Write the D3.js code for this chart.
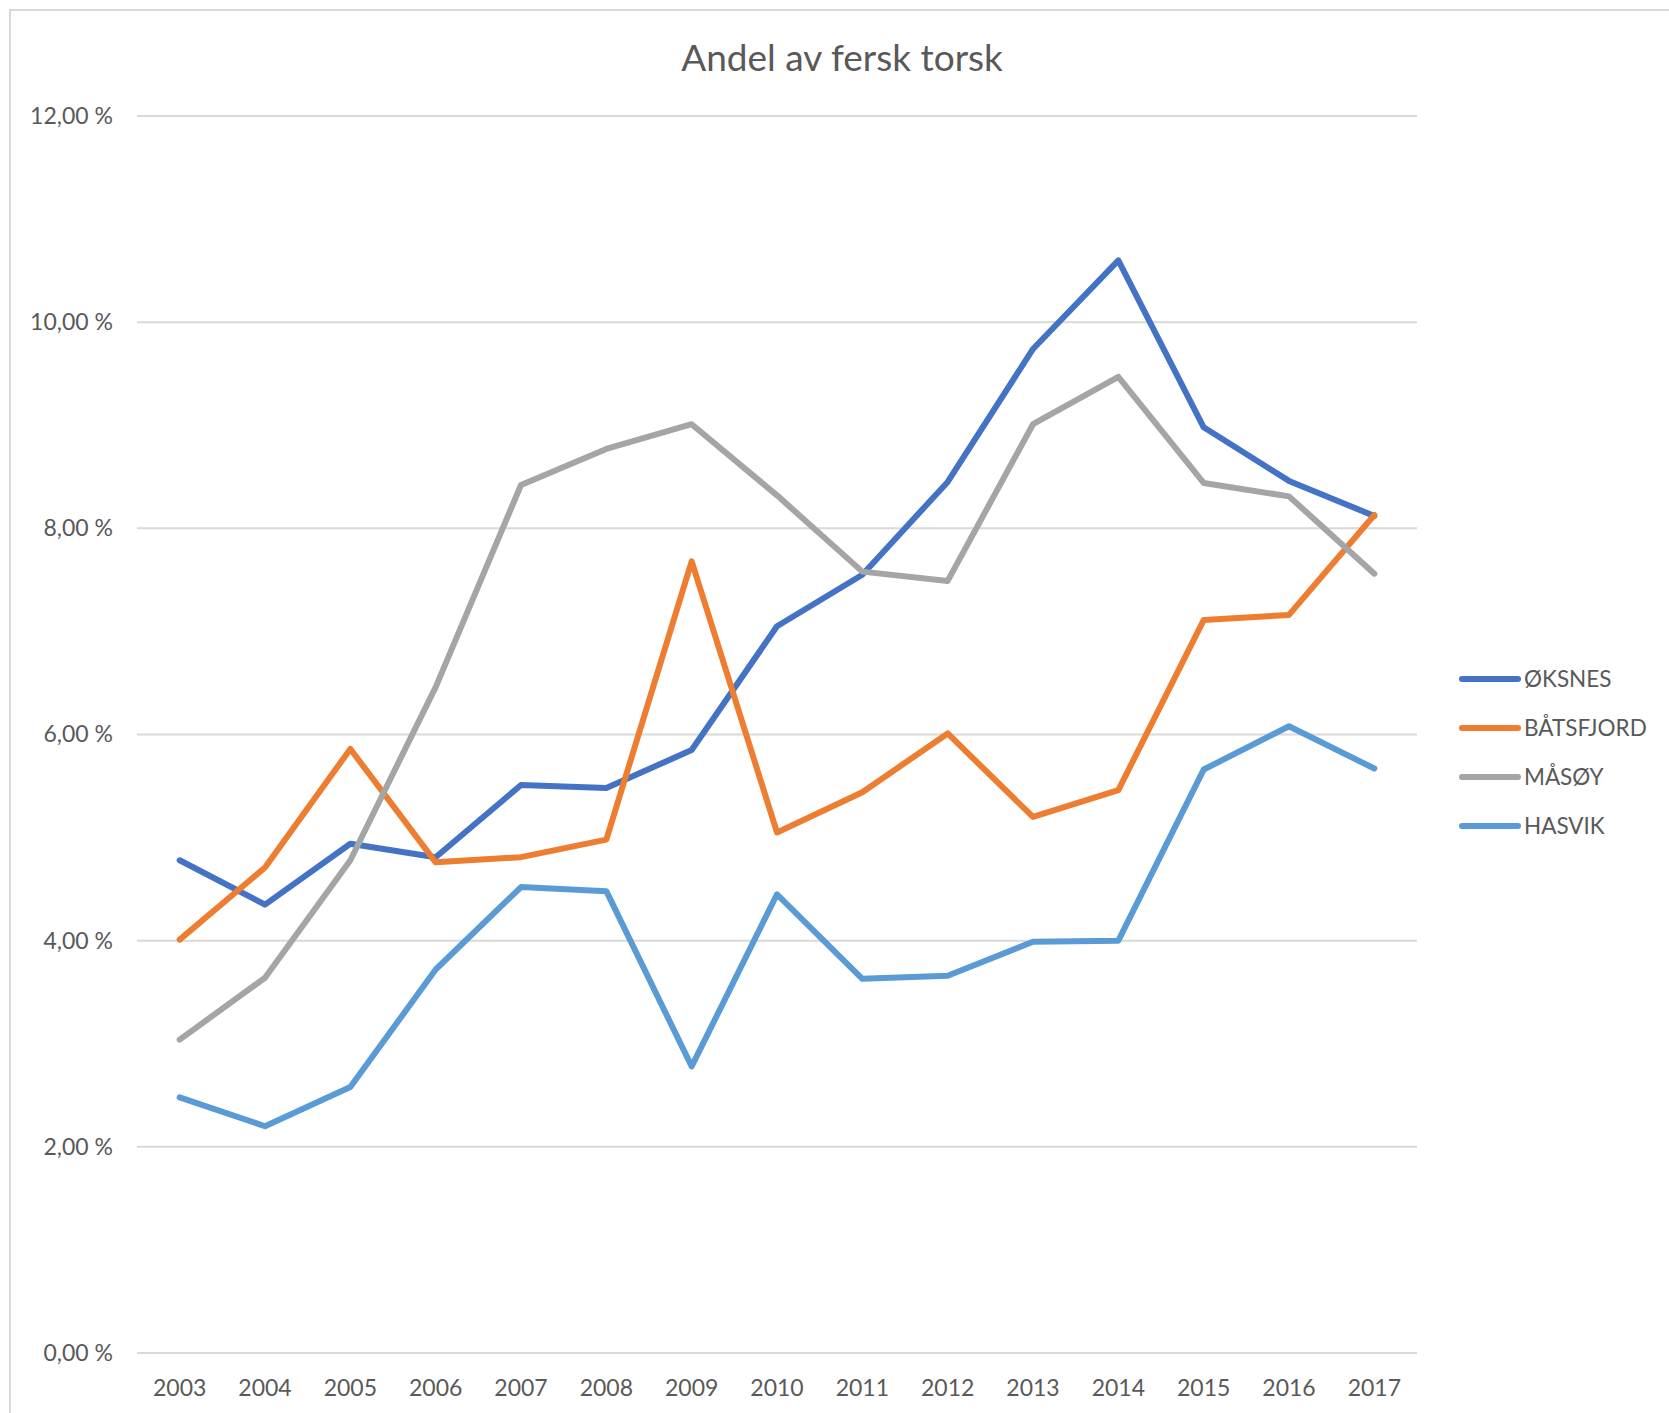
<!DOCTYPE html>
<html>
<head>
<meta charset="utf-8">
<script src="https://cdn.jsdelivr.net/npm/d3@7"></script>
<style>
  body { margin: 0; background: #fff; }
  text { font-family: Lato, "Open Sans", sans-serif; fill: #595959; }
</style>
</head>
<body>
<svg id="chart" width="1669" height="1413"></svg>
<script>
// chart data
let years = ['2003','2004','2005','2006','2007','2008','2009','2010','2011','2012','2013','2014','2015','2016','2017'];
let seriesNames = ['ØKSNES', 'BÅTSFJORD', 'MÅSØY', 'HASVIK'];
let seriesColors = ['#4472C4', '#ED7D31', '#A5A5A5', '#5B9BD5'];
let oksnes    = [4.78, 4.35, 4.94, 4.81, 5.51, 5.48, 5.85, 7.05, 7.55, 8.45, 9.74, 10.60, 8.98, 8.46, 8.12];
let batsfjord = [4.01, 4.71, 5.86, 4.76, 4.81, 4.98, 7.68, 5.05, 5.44, 6.01, 5.20, 5.46, 7.11, 7.16, 8.13];
let masoy     = [3.04, 3.64, 4.78, 6.46, 8.42, 8.77, 9.01, 8.32, 7.58, 7.49, 9.01, 9.47, 8.44, 8.31, 7.56];
let hasvik    = [2.48, 2.20, 2.58, 3.72, 4.52, 4.48, 2.78, 4.45, 3.63, 3.66, 3.99, 4.00, 5.66, 6.08, 5.67];
let yTicks = [0, 2, 4, 6, 8, 10, 12];

let allSeries = [oksnes, batsfjord, masoy, hasvik];

let svg = d3.select('#chart');

// outer chart border
svg.append('rect')
   .attr('x', 10).attr('y', 10)
   .attr('width', 1700).attr('height', 1450)
   .attr('fill', 'none')
   .attr('stroke', '#d9d9d9')
   .attr('stroke-width', 2);

let plotLeft = 137, plotRight = 1417, plotTop = 116, plotBottom = 1353;

let xScale = d3.scaleBand()
               .domain(years)
               .range([plotLeft, plotRight]);

let yScale = d3.scaleLinear()
               .domain([0, 12])
               .range([plotBottom, plotTop]);

// gridlines
svg.append('g')
   .selectAll('line')
   .data(yTicks)
   .enter()
   .append('line')
   .attr('x1', plotLeft)
   .attr('x2', plotRight)
   .attr('y1', (d) => yScale(d))
   .attr('y2', (d) => yScale(d))
   .attr('stroke', '#d9d9d9')
   .attr('stroke-width', 2);

// y axis labels
let yAxis = d3.axisLeft(yScale)
              .tickValues(yTicks)
              .tickSize(0)
              .tickPadding(0)
              .tickFormat((d) => d.toFixed(2).replace('.', ',') + ' %');

svg.append('g')
   .attr('transform', 'translate(113, 0)')
   .call(yAxis)
   .call((g) => g.select('.domain').remove())
   .selectAll('text')
   .style('font-size', '23px')
   .attr('fill', '#595959');

// x axis labels
let xAxis = d3.axisBottom(xScale)
              .tickSize(0)
              .tickPadding(0);

svg.append('g')
   .attr('transform', 'translate(0, 1380)')
   .call(xAxis)
   .call((g) => g.select('.domain').remove())
   .selectAll('text')
   .style('font-size', '23px')
   .attr('fill', '#595959');

// lines
let line = d3.line()
             .x((d, i) => xScale(years[i]) + xScale.bandwidth() / 2)
             .y((d) => yScale(d));

svg.append('g')
   .selectAll('path')
   .data(allSeries)
   .enter()
   .append('path')
   .attr('d', (d) => line(d))
   .attr('fill', 'none')
   .attr('stroke', (d, i) => seriesColors[i])
   .attr('stroke-width', 6)
   .attr('stroke-linejoin', 'round')
   .attr('stroke-linecap', 'round');

// title
svg.append('text')
   .attr('x', 842)
   .attr('y', 71)
   .attr('text-anchor', 'middle')
   .style('font-size', '37px')
   .text('Andel av fersk torsk');

// legend
let legend = svg.append('g')
                .selectAll('g')
                .data(seriesNames)
                .enter()
                .append('g')
                .attr('transform', (d, i) => 'translate(1462, ' + (679 + i * 49) + ')');

legend.append('line')
      .attr('x1', 0).attr('x2', 56)
      .attr('stroke', (d, i) => seriesColors[i])
      .attr('stroke-width', 6)
      .attr('stroke-linecap', 'round');

legend.append('text')
      .attr('x', 62)
      .attr('dy', '0.35em')
      .style('font-size', '22.5px')
      .text((d) => d);
</script>
</body>
</html>
